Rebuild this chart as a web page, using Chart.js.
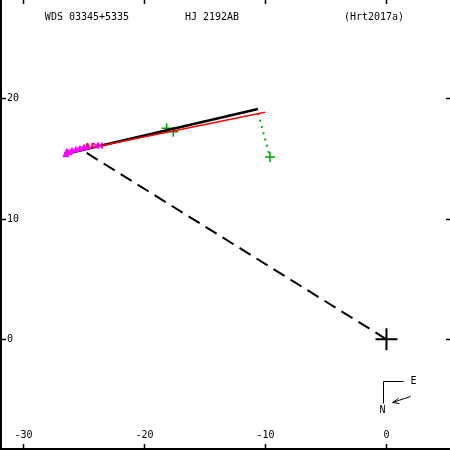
<!DOCTYPE html>
<html><head><meta charset="utf-8">
<script src="https://cdn.jsdelivr.net/npm/chart.js@4/dist/chart.umd.min.js"></script>
<style>html,body{margin:0;padding:0;background:#fff}canvas{display:block}</style>
</head><body>
<canvas id="c" width="450" height="450"></canvas>
<script>
const titles = ["WDS 03345+5335", "HJ 2192AB", "(Hrt2017a)"];
const xTicks = [-30, -20, -10, 0];
const yTicks = [0, 10, 20];
const xRange = [-31.94, 5.25];
const yRange = [-9.19, 28.16];
const orbitLine = [{x:-26.57,y:15.38},{x:-10.62,y:19.11}];
const redLine = [{x:-26.63,y:15.44},{x:-10.04,y:18.84}];
const greenDotted = [{x:-10.6,y:18.75},{x:-9.63,y:15.13}];
const greenObs = [{x:-18.17,y:17.51},{x:-17.62,y:17.23},{x:-9.63,y:15.13}];
const nodeLine = [{x:0,y:0},{x:-25.17,y:15.71}];
const magentaTri = [{x:-26.49,y:15.3},{x:-26.24,y:15.46},{x:-25.99,y:15.63},{x:-25.66,y:15.71},{x:-25.33,y:15.79},{x:-25.0,y:15.88},{x:-24.67,y:15.96},{x:-26.4,y:15.55}];
const magentaX = [{x:-24.0,y:16.08},{x:-23.68,y:16.08}];
const redRes1 = [{x:-24.73,y:16.3},{x:-24.73,y:15.95}];
const redRes2 = [{x:-24.3,y:16.3},{x:-24.3,y:16.0}];
const primary = [{x:0,y:0}];

const deco = {
  id:'deco',
  afterDraw(chart){
    const c = chart.ctx, xs = chart.scales.x, ys = chart.scales.y;
    const W = chart.width, H = chart.height;
    c.save();
    c.strokeStyle='#000'; c.fillStyle='#000'; c.lineWidth=2;
    c.beginPath(); c.moveTo(1,0); c.lineTo(1,H); c.moveTo(0,H-1); c.lineTo(W,H-1); c.stroke();
    c.lineWidth=1.5;
    c.font='10px "DejaVu Sans Mono", monospace';
    c.textAlign='center'; c.textBaseline='middle';
    xTicks.forEach(v=>{
      const px = Math.round(xs.getPixelForValue(v))+0.5;
      c.beginPath(); c.moveTo(px,H); c.lineTo(px,H-6); c.moveTo(px,0); c.lineTo(px,4); c.stroke();
      c.fillText(String(v), px, H-15);
    });
    c.textAlign='left';
    yTicks.forEach(v=>{
      const py = Math.round(ys.getPixelForValue(v))+0.5;
      c.beginPath(); c.moveTo(0,py); c.lineTo(6,py); c.moveTo(W,py); c.lineTo(W-4,py); c.stroke();
      c.fillText(String(v), 7, py);
    });
    c.textAlign='center';
    const tx=[87,212,374];
    titles.forEach((t,i)=>c.fillText(t, tx[i], 17));
    // compass
    const cx = 383.5, cy = 381.5;
    c.lineWidth=1;
    c.beginPath(); c.moveTo(cx, cy+22); c.lineTo(cx, cy); c.lineTo(cx+20, cy); c.stroke();
    c.fillText('E', cx+30, cy);
    c.fillText('N', cx-1, cy+29);
    c.beginPath(); c.moveTo(cx+27, cy+15); c.lineTo(cx+9, cy+21);
    c.moveTo(cx+9, cy+21); c.lineTo(cx+15, cy+17); c.moveTo(cx+9, cy+21); c.lineTo(cx+16, cy+22); c.stroke();
    c.restore();
  }
};

const line = (data, color, w, dash) => ({type:'line', data, borderColor:color, borderWidth:w, borderDash:dash||[], pointRadius:0, showLine:true, fill:false, tension:0});

new Chart(document.getElementById('c'), {
  type:'scatter',
  data:{datasets:[
    line(nodeLine,'#000',2,[13,7]),
    line(redRes1,'#ff0000',2),
    line(redRes2,'#ff0000',2),
    {data:magentaTri, pointStyle:'triangle', pointRadius:3.5, backgroundColor:'#ff00ff', borderColor:'#ff00ff', borderWidth:1},
    {data:magentaX, pointStyle:'crossRot', pointRadius:4, borderColor:'#ff00ff', borderWidth:1.5},
    line(redLine,'#ff0000',1.5),
    line(orbitLine,'#000',2.5),
    line(greenDotted,'#00b000',2,[2,4.5]),
    {data:greenObs, pointStyle:'cross', pointRadius:5, borderColor:'#00a000', borderWidth:1.5},
    {data:primary, pointStyle:'cross', pointRadius:11, borderColor:'#000', borderWidth:2}
  ]},
  options:{
    responsive:false, animation:false, devicePixelRatio:1,
    layout:{padding:0, autoPadding:false},
    plugins:{legend:{display:false}, tooltip:{enabled:false}},
    scales:{
      x:{type:'linear', min:xRange[0], max:xRange[1], display:false},
      y:{type:'linear', min:yRange[0], max:yRange[1], display:false}
    }
  },
  plugins:[deco]
});
</script>
</body></html>
